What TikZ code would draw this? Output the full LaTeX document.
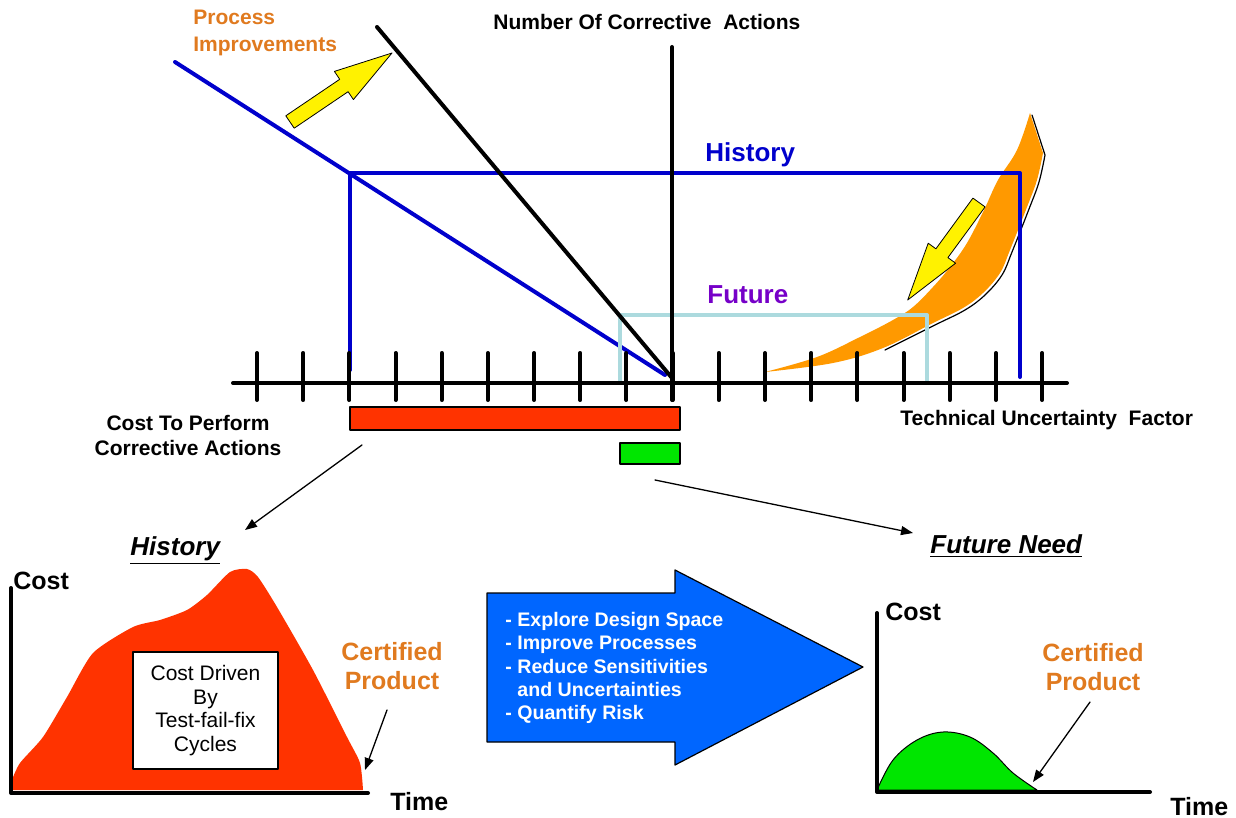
\documentclass[tikz,border=0pt]{standalone}
\usepackage{fontspec}
\setmainfont{Liberation Sans}
\usetikzlibrary{arrows.meta}
\definecolor{histblue}{RGB}{0,0,204}
\definecolor{futpurple}{RGB}{118,0,200}
\definecolor{futcyan}{RGB}{172,218,222}
\definecolor{crescent}{RGB}{255,153,0}
\definecolor{certorange}{RGB}{224,122,31}
\definecolor{costred}{RGB}{255,51,0}
\definecolor{needgreen}{RGB}{0,230,0}
\definecolor{bigblue}{RGB}{0,102,255}

\begin{document}
\begin{tikzpicture}[x=0.5pt,y=-0.5pt,line cap=round,line join=round,
    label text/.style={inner sep=0pt,anchor=base west},
    thin arrow/.style={line width=0.65pt,-{Triangle[length=6pt,width=4.5pt]}},
    heavy/.style={line width=2pt}]
  \useasboundingbox (0,0) rectangle (1236,818);

  % orange curve and the two yellow arrows
  \draw[line width=0.6pt] plot[smooth,tension=0.6] coordinates {(885,350) (935,325) (965,310) (985,295)
    (1002,275) (1012,252) (1029,209) (1039,182) (1045,155)} -- (1032,115);
  \fill[crescent] plot[smooth,tension=0.6] coordinates {(765,372) (833,363) (883,348) (933,323) (963,308)
    (983,293) (1000,273) (1010,250) (1027,207) (1037,180) (1043,153)}
    -- plot[smooth,tension=0.6] coordinates {(1030,113) (1017,150) (998,180) (984,210) (967,243)
    (950,267) (933,287) (913,307) (893,320) (860,337) (817,357) (765,372)} -- cycle;
  \draw[line width=0.4pt,fill=yellow] (285.8,115.8) -- (339.7,79.3) -- (334.4,71.4) -- (392,53)
    -- (353.4,99.6) -- (348.1,91.7) -- (294.2,128.2) -- cycle;
  \draw[line width=0.4pt,fill=yellow] (972.9,198.1) -- (935.9,248.8) -- (928.2,243.2) -- (907.7,300)
    -- (955.6,263.2) -- (947.9,257.6) -- (985.1,206.9) -- cycle;

  % history and future lines
  \draw[heavy,histblue] (175,62) -- (665,375);
  \draw[heavy,histblue] (350,370) -- (350,173) -- (1020,173) -- (1020,377);
  \draw[heavy,futcyan] (620,383) -- (620,315) -- (927,315) -- (927,383);
  \draw[heavy] (377,27) -- (672,378);
  \draw[heavy] (672,47) -- (672,400);

  % axis
  \draw[heavy] (233,383) -- (1067,383);
  \foreach \k in {0,...,17}
    \draw[heavy] ({257+46.18*\k},353) -- ++(0,47);

  % bars
  \draw[line width=0.6pt,fill=costred] (350,407) rectangle (680,430);
  \draw[line width=0.6pt,fill=needgreen] (620,443) rectangle (680,464);

  \node[label text,text=certorange,font=\fontsize{10.5}{13}\selectfont\bfseries] (procA) at (193,25) {Process};
  \node[label text,text=certorange,font=\fontsize{10.5}{13}\selectfont\bfseries] (procB) at (193,52) {Improvements};
  \node[label text,font=\fontsize{10.5}{13}\selectfont\bfseries] (numact) at (493,30) {Number Of Corrective\ \ Actions};
  \node[label text,text=histblue,font=\fontsize{13}{15}\selectfont\bfseries] (histlbl) at (705,162) {History};
  \node[label text,text=futpurple,font=\fontsize{13}{15}\selectfont\bfseries] (futlbl) at (707,303) {Future};
  \node[align=center,inner sep=0pt,font=\fontsize{10.5}{12.5}\selectfont\bfseries] (costperf) at (188,435)
    {Cost To Perform\\Corrective Actions};
  \node[label text,font=\fontsize{10.5}{13}\selectfont\bfseries] (techunc) at (900,425) {Technical Uncertainty\ \ Factor};

  % headings below
  \node[label text,font=\fontsize{13}{15}\selectfont\bfseries\itshape] (histhead) at (130,555) {\underline{History}};
  \node[label text,font=\fontsize{13}{15}\selectfont\bfseries\itshape] (needhead) at (930,553) {\underline{Future Need}};
  \coordinate (redfoot) at (362,445);
  \coordinate (histtip) at (245,530);
  \coordinate (greenfoot) at (655,480);
  \coordinate (needtip) at (913,533);
  \draw[thin arrow] (redfoot) -- (histtip);
  \draw[thin arrow] (greenfoot) -- (needtip);

  % history chart
  \fill[costred] plot[smooth,tension=0.4] coordinates {(10,790) (12,780) (20,763) (43,737) (67,697) (93,653)
    (133,627) (160,620) (187,610) (207,595) (230,572) (247,569) (258,577) (277,607) (313,670)
    (347,737) (360,763) (363,790)} -- cycle;
  \draw[heavy] (11,588) -- (11,793) -- (368,793);
  \node[draw,fill=white,line width=0.6pt,minimum width=72.5pt,minimum height=58.5pt,align=center,
    font=\fontsize{10.5}{11.7}\selectfont] (drivenbox) at (205.5,710.5) {Cost Driven\\By\\Test-fail-fix\\Cycles};
  \node[label text,font=\fontsize{12.5}{15}\selectfont\bfseries] (costA) at (13,589) {Cost};
  \node[label text,font=\fontsize{12.5}{15}\selectfont\bfseries] (timeA) at (390,810) {Time};
  \node[align=center,inner sep=0pt,text=certorange,font=\fontsize{12.5}{14.5}\selectfont\bfseries] (certA) at (392,666)
    {Certified\\Product};
  \coordinate (certAfoot) at (387,710);
  \coordinate (certAtip) at (365,770);
  \draw[thin arrow] (certAfoot) -- (certAtip);

  % big arrow
  \draw[line width=0.6pt,fill=bigblue] (487,593) -- (675,593) -- (675,570) -- (863,667) -- (675,765)
    -- (675,742) -- (487,742) -- cycle;
  \node[anchor=west,align=left,inner sep=0pt,text=white,font=\fontsize{9.8}{11.7}\selectfont\bfseries] (steps) at (505,668)
    {- Explore Design Space\\- Improve Processes\\- Reduce Sensitivities\\\phantom{- }and Uncertainties\\- Quantify Risk};

  % future chart
  \draw[line width=0.5pt,fill=needgreen] plot[smooth,tension=0.6] coordinates {(877,790) (893,760) (917,740) (943,732)
    (970,737) (993,753) (1013,773) (1037,790)} -- cycle;
  \draw[heavy] (877,613) -- (877,792) -- (1150,792);
  \node[label text,font=\fontsize{12.5}{15}\selectfont\bfseries] (costB) at (885,620) {Cost};
  \node[label text,font=\fontsize{12.5}{15}\selectfont\bfseries] (timeB) at (1170,815) {Time};
  \node[align=center,inner sep=0pt,text=certorange,font=\fontsize{12.5}{14.5}\selectfont\bfseries] (certB) at (1093,667)
    {Certified\\Product};
  \coordinate (certBfoot) at (1090,702);
  \coordinate (certBtip) at (1033,782);
  \draw[thin arrow] (certBfoot) -- (certBtip);
\end{tikzpicture}
\end{document}
